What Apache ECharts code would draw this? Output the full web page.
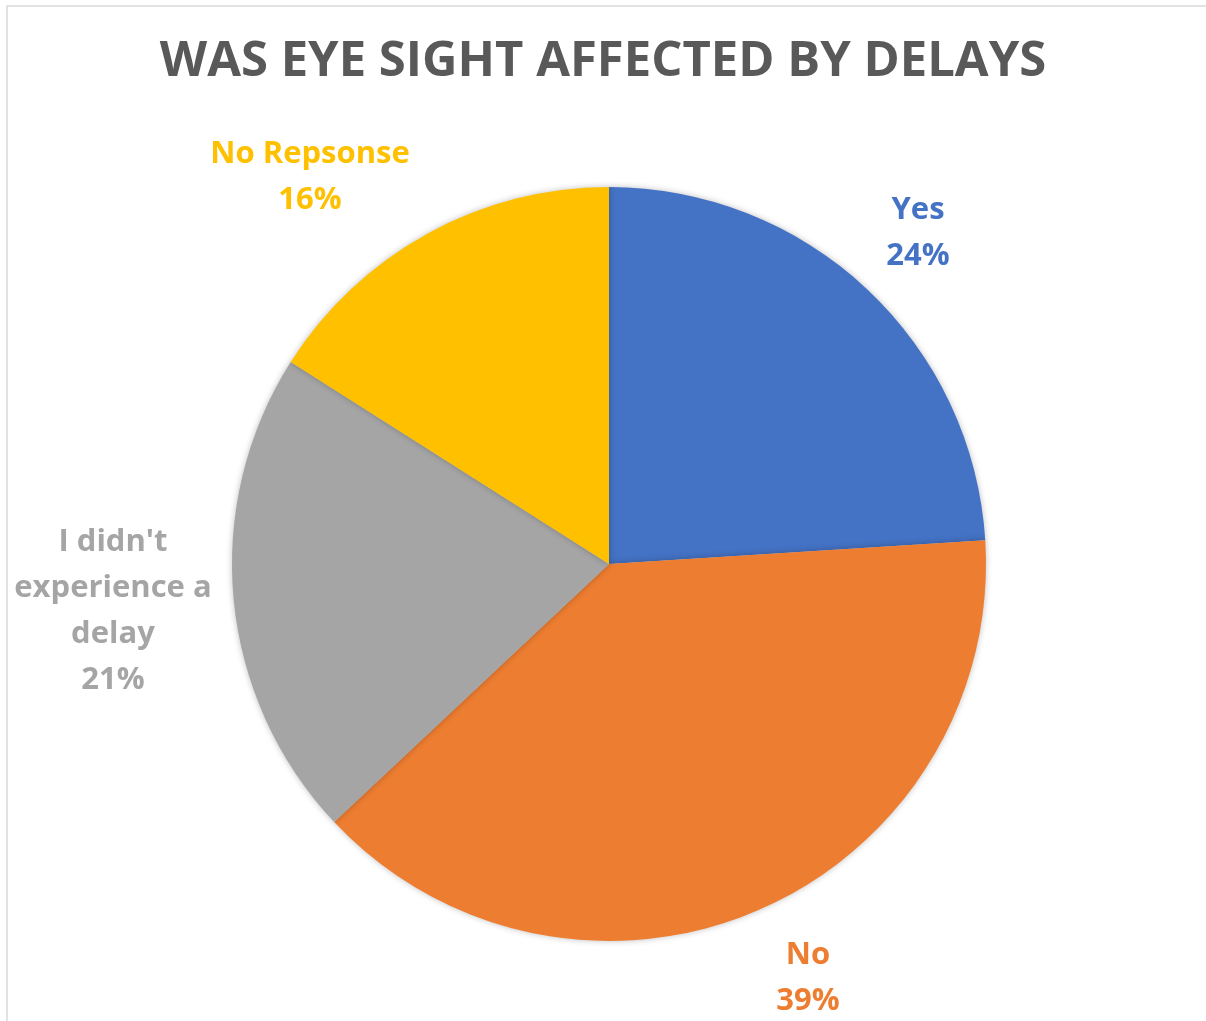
<!DOCTYPE html>
<html>
<head>
<meta charset="utf-8">
<script src="https://cdn.jsdelivr.net/npm/echarts@6/dist/echarts.min.js"></script>
<style>
html,body{margin:0;padding:0;background:#fff;}
#chart{width:1206px;height:1021px;}
</style>
</head>
<body>
<div id="chart"></div>
<script>
const categories = ["Yes", "No", "I didn't\nexperience a\ndelay", "No Repsonse"];
const values = [24, 39, 21, 16];
const colors = ["#4472C4", "#ED7D31", "#A5A5A5", "#FFC000"];
const titleText = "WAS EYE SIGHT AFFECTED BY DELAYS";

// label centre offsets relative to pie centre (layout only)
const labelOffsets = [[309, -331], [199, 414], [-496, 47], [-299, -387]];

const chart = echarts.init(document.getElementById('chart'));
const cx = 609, cy = 564;
const FONT = '"Open Sans", "Liberation Sans", sans-serif';
chart.setOption({
  backgroundColor: '#fff',
  animation: false,
  title: {
    text: titleText,
    left: 'center',
    top: 33,
    textStyle: {fontFamily: FONT, fontWeight: 'bold', fontSize: 49, color: '#595959'}
  },
  graphic: [{
    type: 'rect',
    shape: {x: 7, y: 6, width: 1220, height: 1040},
    style: {fill: 'none', stroke: '#d9d9d9', lineWidth: 1.5},
    silent: true
  }],
  series: [{
    type: 'pie',
    center: [cx, cy],
    radius: [0, 377],
    startAngle: 90,
    clockwise: true,
    data: categories.map((c, i) => ({
      name: c, value: values[i],
      itemStyle: {color: colors[i]},
      label: {color: colors[i]}
    })),
    itemStyle: {borderWidth: 0, shadowBlur: 6, shadowColor: 'rgba(0,0,0,0.25)'},
    label: {
      show: true,
      position: 'outside',
      formatter: p => p.name + '\n' + p.percent + '%',
      fontFamily: FONT,
      fontWeight: 'bold',
      fontSize: 31,
      lineHeight: 46,
      align: 'center',
      overflow: 'none'
    },
    labelLine: {show: false},
    labelLayout: function (params) {
      const o = labelOffsets[params.dataIndex];
      return {x: cx + o[0], y: cy + o[1], align: 'center', verticalAlign: 'middle'};
    }
  }]
});
</script>
</body>
</html>
